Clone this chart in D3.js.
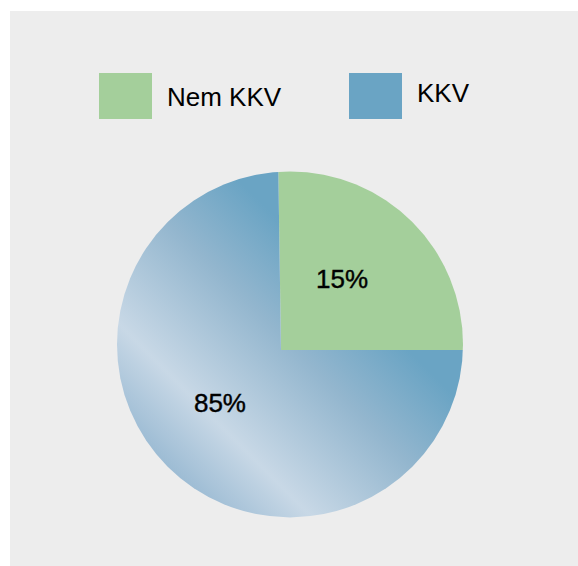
<!DOCTYPE html>
<html>
<head>
<meta charset="utf-8">
<script src="https://cdn.jsdelivr.net/npm/d3@7"></script>
<style>
  html, body { margin: 0; padding: 0; background: #fff; }
  svg { display: block; font-family: "Liberation Sans", Arial, Helvetica, sans-serif; }
</style>
</head>
<body>
<svg id="chart" width="578" height="566"></svg>
<script>
// Pie: small-business share (Nem KKV / KKV)

const categories = ["Nem KKV", "KKV"];
// slice sizes as drawn in the picture (the green wedge is close to a quarter)
const shares = [25.24, 74.76];
// printed labels on the slices
const sliceLabels = ["15%", "85%"];
const colors = ["#a4cf9b", "#6aa4c4"];

(function () {
  "use strict";

  const svg = d3.select("#chart");

  // --- panel ---
  svg.append("rect")
    .attr("x", 10).attr("y", 11)
    .attr("width", 568).attr("height", 555)
    .attr("fill", "#ededed");

  const color = d3.scaleOrdinal().domain(categories).range(colors);

  // --- gradient for the KKV slice (page coords, shifted into the pie group) ---
  const defs = svg.append("defs");
  const grad = defs.append("linearGradient")
    .attr("id", "kkv-grad")
    .attr("gradientUnits", "userSpaceOnUse")
    .attr("gradientTransform", "translate(-281,-350)")
    .attr("x1", 168).attr("y1", 466)
    .attr("x2", 412).attr("y2", 222);
  [
    [0.00, "#9dbcd4"],
    [0.19, "#c8d8e6"],
    [0.50, "#93b6ce"],
    [0.73, "#6aa4c4"],
    [1.00, "#6aa4c4"]
  ].forEach(([o, c]) => grad.append("stop").attr("offset", o).attr("stop-color", c));

  // disk outline the wedges are cut to
  defs.append("clipPath").attr("id", "disk")
    .append("circle")
    .attr("cx", 290).attr("cy", 344.4).attr("r", 173);

  // --- pie ---
  const start = -0.015;
  const pie = d3.pie().sort(null).startAngle(start).endAngle(start + 2 * Math.PI);
  const arcs = pie(shares);

  const arc = d3.arc().innerRadius(0).outerRadius(260);
  const labelArc = d3.arc().innerRadius(87).outerRadius(87);

  const g = svg.append("g")
    .attr("clip-path", "url(#disk)")
    .append("g")
    .attr("transform", "translate(281,350)");

  g.selectAll("path.slice")
    .data(arcs)
    .enter().append("path")
    .attr("class", "slice")
    .attr("d", arc)
    .attr("fill", (d, i) => i === 1 ? "url(#kkv-grad)" : color(categories[i]));

  svg.append("g")
    .attr("transform", "translate(281,350)")
    .selectAll("text")
    .data(arcs)
    .enter().append("text")
    .attr("x", d => labelArc.centroid(d)[0])
    .attr("y", d => labelArc.centroid(d)[1])
    .attr("text-anchor", "middle")
    .attr("font-size", 26)
    .attr("fill", "#000")
    .attr("stroke", "#000")
    .attr("stroke-width", 0.4)
    .text((d, i) => sliceLabels[i]);

  // --- legend ---
  const legendX = [99, 349];
  const legendTextY = [106, 102];
  const legend = svg.append("g").attr("class", "legend");
  categories.forEach((c, i) => {
    legend.append("rect")
      .attr("x", legendX[i]).attr("y", 73)
      .attr("width", 53).attr("height", 46)
      .attr("fill", color(c));
    legend.append("text")
      .attr("x", legendX[i] + 68).attr("y", legendTextY[i])
      .attr("font-size", 26)
      .attr("fill", "#000")
      .text(c);
  });
})();
</script>
</body>
</html>
